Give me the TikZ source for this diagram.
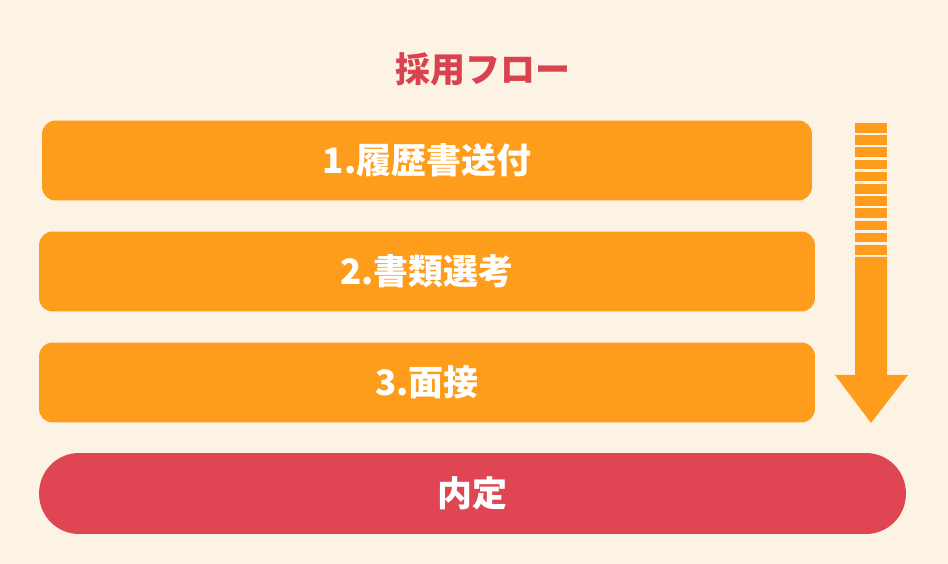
\documentclass[tikz,border=0pt]{standalone}
\usepackage{fontspec}
\newfontfamily\jpfont{Noto Sans CJK JP}
\definecolor{bgcream}{RGB}{253,243,228}
\definecolor{steporange}{RGB}{254,157,28}
\definecolor{goalred}{RGB}{224,69,83}
\definecolor{titlered}{RGB}{217,67,79}
\tikzset{
  stepbox/.style={fill=steporange, rounded corners=0.27cm, inner sep=0pt,
    minimum width=15.5cm, minimum height=1.6cm, text=white,
    font=\jpfont\bfseries\fontsize{19.9}{24}\selectfont},
  goalbox/.style={stepbox, fill=goalred, rounded corners=0.8cm,
    minimum width=17.34cm, minimum height=1.62cm}
}
\begin{document}
\begin{tikzpicture}[x=0.02cm, y=-0.02cm]
\fill [bgcream] (0, 0) rectangle (948, 564);
\useasboundingbox (0, 0) rectangle (948, 564);
\node (title) at (483, 69) [text=titlered, font=\jpfont\bfseries\fontsize{19.9}{24}\selectfont] {採用フロー};
\node (send)  at (427, 160.5) [stepbox, minimum width=15.4cm] {1.履歴書送付};
\node (paper) at (427, 271.5) [stepbox, minimum width=15.52cm] {2.書類選考};
\node (meet)  at (427, 382.5) [stepbox, minimum width=15.52cm] {3.面接};
\node (offer) at (472.5, 493.5) [goalbox] {内定};
% striped tail, then the solid shaft and head
\foreach \i in {0,...,10}
  \fill [steporange] (855, 123 + 12.2*\i) rectangle ++(32, 9.6);
\path (855, 257) coordinate (shaft);
\fill [steporange] (shaft) -- ++(0, 118) -- ++(-20, 0) -- (871, 423) coordinate (tip)
  -- (908, 375) -- ++(-21, 0) -- ++(0, -118) -- cycle;
\end{tikzpicture}
\end{document}
